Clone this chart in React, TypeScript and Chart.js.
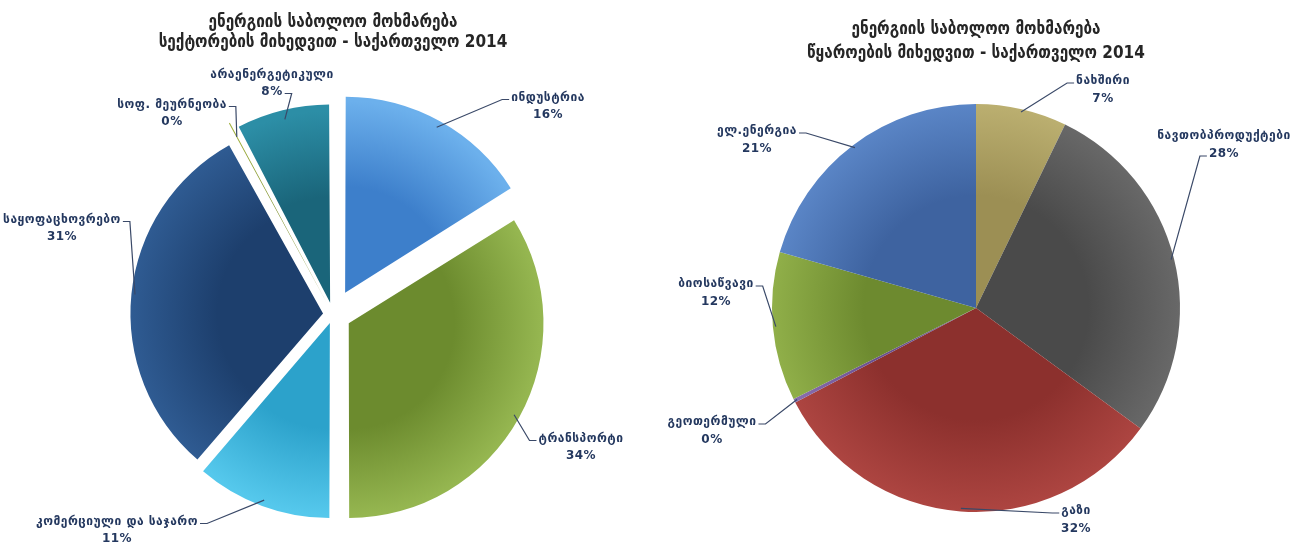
import React, { useEffect, useRef } from 'react';
import { Chart, registerables } from 'chart.js';

Chart.register(...registerables);

const FONT_C = '"DejaVu Sans Condensed", "DejaVu Sans", sans-serif';
const FONT = '"DejaVu Sans", sans-serif';

// ---- Left chart: by sector ----
const sectorTitle = ['ენერგიის საბოლოო მოხმარება', 'სექტორების მიხედვით - საქართველო 2014'];
const sectorLabels = ['ინდუსტრია', 'ტრანსპორტი', 'კომერციული და საჯარო', 'საყოფაცხოვრებო', 'სოფ. მეურნეობა', 'არაენერგეტიკული'];
const sectorValues = [16.1, 33.9, 11.3, 30.6, 0.4, 7.7];

// ---- Right chart: by source ----
const sourceTitle = ['ენერგიის საბოლოო მოხმარება', 'წყაროების მიხედვით - საქართველო 2014'];
const sourceLabels = ['ნახშირი', 'ნავთობპროდუქტები', 'გაზი', 'გეოთერმული', 'ბიოსაწვავი', 'ელ.ენერგია'];
const sourceValues = [7.2, 27.9, 32.3, 0.3, 11.8, 20.6];

// styles (inner, outer gradient colours)
const sectorColors: [string, string][] = [
  ['#3d7fcb', '#6cb0ec'],
  ['#6c8b2e', '#95b650'],
  ['#2ca2cb', '#55c8ec'],
  ['#1d3f6d', '#2f5b92'],
  ['#7d8f2a', '#a0b040'],
  ['#1a657a', '#2c8ea6'],
];
const sectorOffsets = [100, 72, 36, 40, 52, 48];
const sourceColors: [string, string][] = [
  ['#9c8f54', '#bbaf70'],
  ['#4a4a4a', '#686868'],
  ['#8c302d', '#ad4541'],
  ['#6a4f8f', '#8a6fb0'],
  ['#6d8a2f', '#90af49'],
  ['#3e63a0', '#5a85c6'],
];

// label layout: [dx, dy from pie centre, leader line index, leader side]
const sectorLabelLayout: [number, number, number, string][] = [
  [215, -217, 0, 'l'],
  [248, 124, 0, 'l'],
  [-216, 207, 0, 'r'],
  [-271, -95, 0, 'r'],
  [-161, -210, 0, 'r'],
  [-61, -240, 1, 'r'],
];
const sourceLabelLayout: [number, number, number, string][] = [
  [127, -227, 0, 'l'],
  [248, -172, 1, 'l'],
  [100, 203, 0, 'l'],
  [-264, 114, 0, 'r'],
  [-260, -24, 0, 'r'],
  [-219, -177, 0, 'r'],
];

const pieLabelPlugin = {
  id: 'pieLabels',
  afterDatasetsDraw(chart: any, _args: any, opts: any) {
    const meta = chart.getDatasetMeta(0);
    const ds = chart.data.datasets[0];
    const total = ds.data.reduce((a: number, b: number) => a + b, 0);
    const ctx = chart.ctx;
    ctx.save();
    ctx.font = `bold ${opts.size}px ${FONT}`;
    try { (ctx as any).letterSpacing = opts.spacing || '0px'; } catch (e) {}
    ctx.textAlign = 'center';
    ctx.textBaseline = 'middle';
    meta.data.forEach((arc: any, i: number) => {
      const p = arc.getProps(['x', 'y', 'startAngle', 'endAngle', 'outerRadius'], true);
      const off = (arc.options.offset || 0) / 4;
      const mid = (p.startAngle + p.endAngle) / 2;
      const vx = p.x + Math.cos(mid) * off;
      const vy = p.y + Math.sin(mid) * off;
      const ar = p.outerRadius - 3;
      const ax = vx + Math.cos(mid) * ar;
      const ay = vy + Math.sin(mid) * ar;
      const [dx, dy, li, side] = opts.layout[i];
      const cx = p.x + dx;
      const cy = p.y + dy;
      const lines = [String(chart.data.labels[i]), Math.round((ds.data[i] / total) * 100) + '%'];
      const w = ctx.measureText(lines[li]).width;
      const sx = side === 'l' ? cx - w / 2 - 2 : cx + w / 2 + 2;
      const sy = cy + li * opts.lineGap + 2;
      const ex = side === 'l' ? sx - 7 : sx + 7;
      ctx.strokeStyle = '#3a4968';
      ctx.lineWidth = 1.2;
      ctx.beginPath();
      ctx.moveTo(sx, sy);
      ctx.lineTo(ex, sy);
      ctx.lineTo(ax, ay);
      ctx.stroke();
      ctx.fillStyle = '#24385f';
      lines.forEach((t, k) => ctx.fillText(t, cx, cy + k * opts.lineGap));
    });
    ctx.restore();
  },
};

function gradientFor(colors: [string, string][], radius: number) {
  return (c: any) => {
    const chart = c.chart;
    const area = chart.chartArea;
    const [inner, outer] = colors[c.dataIndex] || colors[0];
    if (!area) return inner;
    const x = (area.left + area.right) / 2;
    const y = (area.top + area.bottom) / 2;
    const g = chart.ctx.createRadialGradient(x, y, 0, x, y, radius);
    g.addColorStop(0, inner);
    g.addColorStop(0.55, inner);
    g.addColorStop(1, outer);
    return g;
  };
}

function PieChart(props: {
  labels: string[];
  values: number[];
  colors: [string, string][];
  offsets?: number[];
  title: string[];
  titleSize: number;
  titleLH: number;
  titlePad: { top: number; bottom: number };
  layoutPad: { left: number; right: number; top: number; bottom: number };
  radius: number;
  labelLayout: [number, number, number, string][];
  labelSize: number;
  labelSpacing: string;
  lineGap: number;
  style: React.CSSProperties;
  width: number;
}) {
  const ref = useRef<HTMLCanvasElement>(null);
  useEffect(() => {
    if (!ref.current) return;
    const chart = new Chart(ref.current, {
      type: 'pie',
      data: {
        labels: props.labels,
        datasets: [
          {
            data: props.values,
            backgroundColor: gradientFor(props.colors, props.radius),
            borderWidth: 0,
            offset: props.offsets || 0,
          } as any,
        ],
      },
      options: {
        responsive: false,
        animation: false,
        events: [],
        radius: props.radius,
        layout: { padding: props.layoutPad },
        plugins: {
          legend: { display: false },
          tooltip: { enabled: false },
          title: {
            display: true,
            text: props.title,
            color: '#262626',
            font: { family: FONT_C, size: props.titleSize, weight: 'bold', lineHeight: props.titleLH },
            padding: props.titlePad,
          },
          pieLabels: { layout: props.labelLayout, size: props.labelSize, lineGap: props.lineGap, spacing: props.labelSpacing },
        } as any,
      } as any,
      plugins: [pieLabelPlugin],
    });
    return () => chart.destroy();
  }, []);
  return <canvas ref={ref} width={props.width} height={544} style={{ ...props.style, width: props.width, height: 544 }} />;
}

export default function App() {
  return (
    <div style={{ position: 'absolute', left: 0, top: 0, width: 1309, height: 544, background: '#fff', overflow: 'hidden' }}>
      <PieChart
        labels={sectorLabels}
        values={sectorValues}
        colors={sectorColors}
        offsets={sectorOffsets}
        title={sectorTitle}
        titleSize={17}
        titleLH={1.2}
        titlePad={{ top: 12, bottom: 32.2 }}
        layoutPad={{ left: 12, right: 0, top: 0, bottom: 0 }}
        radius={192}
        labelLayout={sectorLabelLayout}
        labelSize={12}
        labelSpacing="0.5px"
        lineGap={17}
        width={654}
        style={{ position: 'absolute', left: 0, top: 0 }}
      />
      <PieChart
        labels={sourceLabels}
        values={sourceValues}
        colors={sourceColors}
        title={sourceTitle}
        titleSize={17}
        titleLH={1.4}
        titlePad={{ top: 18, bottom: 6.4 }}
        layoutPad={{ left: 0, right: 11, top: 0, bottom: 0 }}
        radius={204}
        labelLayout={sourceLabelLayout}
        labelSize={12}
        labelSpacing="0.5px"
        lineGap={18}
        width={655}
        style={{ position: 'absolute', left: 654, top: 0 }}
      />
    </div>
  );
}
